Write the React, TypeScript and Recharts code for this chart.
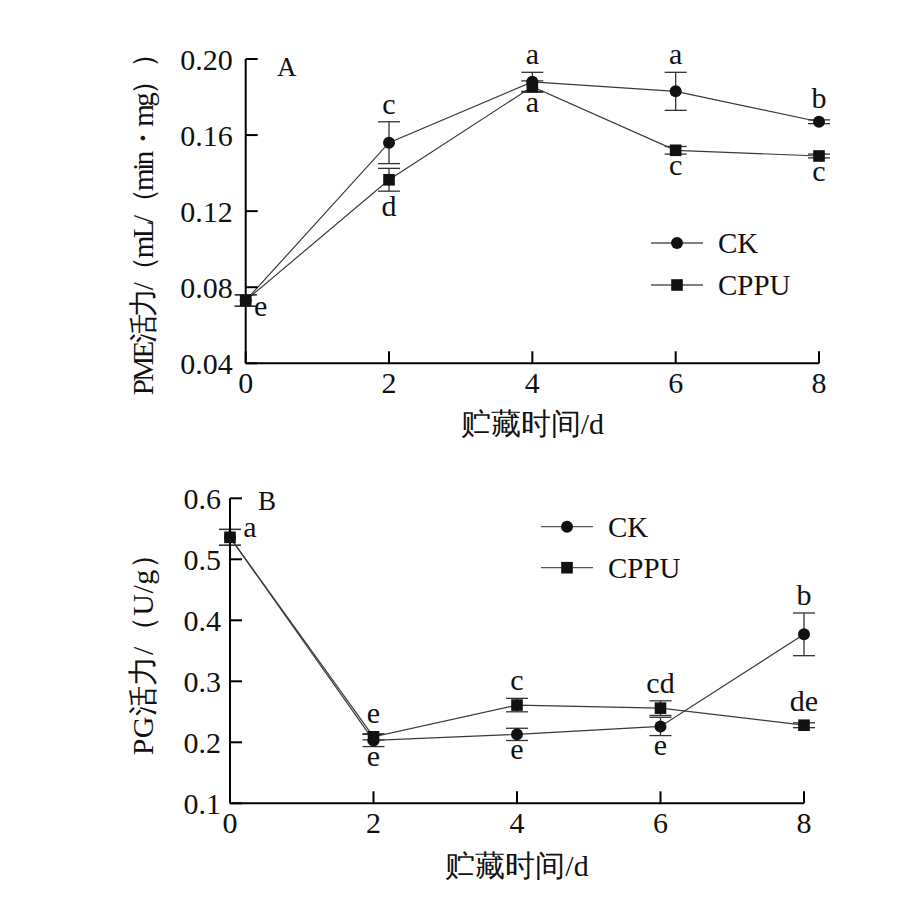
import React from 'react';
import { LineChart, Line, XAxis, YAxis, ErrorBar, LabelList, Legend, Label } from 'recharts';

const FONT = "'Times New Roman', 'Liberation Serif', 'DejaVu Serif', serif";

// ---------- data ----------
const days = [0, 2, 4, 6, 8];
const xTicks = [0, 2, 4, 6, 8];

// Panel A: PME activity
const pmeCK = [0.073, 0.156, 0.188, 0.183, 0.167];
const pmeCKErr = [0.003, 0.011, 0.005, 0.01, 0.001];
const pmeCPPU = [0.073, 0.1365, 0.1855, 0.152, 0.149];
const pmeCPPUErr = [0.003, 0.006, 0.003, 0.002, 0.001];
const pmeCKLetters = ['', 'c', 'a', 'a', 'b'];
const pmeCKSides = ['', 'above', 'above', 'above', 'above'];
const pmeCPPULetters = ['e', 'd', 'a', 'c', 'c'];
const pmeCPPUSides = ['belowRight', 'below', 'below', 'below', 'below'];
const pmeTicks = [0.04, 0.08, 0.12, 0.16, 0.2];

// Panel B: PG activity
const pgCK = [0.536, 0.203, 0.213, 0.226, 0.377];
const pgCKErr = [0.013, 0.01, 0.01, 0.015, 0.035];
const pgCPPU = [0.536, 0.209, 0.261, 0.256, 0.228];
const pgCPPUErr = [0.013, 0.005, 0.011, 0.012, 0.004];
const pgCKLetters = ['', 'e', 'e', 'e', 'b'];
const pgCKSides = ['', 'below', 'below', 'below', 'above'];
const pgCPPULetters = ['a', 'e', 'c', 'cd', 'de'];
const pgCPPUSides = ['right', 'above', 'above', 'above', 'above'];
const pgTicks = [0.1, 0.2, 0.3, 0.4, 0.5, 0.6];

const seriesNames = ['CK', 'CPPU'];

const pmeData = days.map((d, i) => ({
  day: d,
  ck: pmeCK[i],
  ckErr: pmeCKErr[i],
  cppu: pmeCPPU[i],
  cppuErr: pmeCPPUErr[i],
}));
const pgData = days.map((d, i) => ({
  day: d,
  ck: pgCK[i],
  ckErr: pgCKErr[i],
  cppu: pgCPPU[i],
  cppuErr: pgCPPUErr[i],
}));

// ---------- styles ----------
const LINE = '#3a3a3a';
const MARK = '#111';
const TICK_FS = 30;
const LETTER_FS = 30;

const CircleDot = (props: any) => {
  const { cx, cy, index } = props;
  if (cx == null || cy == null) return <g key={index} />;
  return <circle key={`c${index}`} cx={cx} cy={cy} r={6} fill={MARK} stroke="none" />;
};
const SquareDot = (props: any) => {
  const { cx, cy, index } = props;
  if (cx == null || cy == null) return <g key={index} />;
  return <rect key={`s${index}`} x={cx - 5.8} y={cy - 5.8} width={11.6} height={11.6} fill={MARK} stroke="none" />;
};

const makeLetterLabel = (letters: string[], sides: string[], errs: number[], pxPerUnit: number) => (props: any) => {
  const { x, y, index } = props;
  const txt = letters[index];
  if (!txt) return null;
  const side = sides[index];
  const e = Math.max(6, errs[index] * pxPerUnit);
  let tx = x;
  let ty = y;
  if (side === 'above') {
    ty = y - e - 8;
  } else if (side === 'below') {
    const asc = /[bdfhklt]/.test(txt) ? 6 : 0;
    ty = y + e + 19 + asc;
  } else if (side === 'right') {
    tx = x + 20;
    ty = y;
  } else if (side === 'belowRight') {
    tx = x + 15;
    ty = y + 15;
  }
  return (
    <text x={tx} y={ty} textAnchor="middle" style={{ fontFamily: FONT }} fontSize={LETTER_FS} fill="#111">
      {txt}
    </text>
  );
};

const makeYTick = (digits: number, gap: number) => (props: any) => {
  const { x, y, payload } = props;
  return (
    <g>
      <line x1={x} y1={y} x2={x + 12} y2={y} stroke="#000" strokeWidth={2} />
      <text x={x - gap} y={y} dy={10.5} textAnchor="end" style={{ fontFamily: FONT }} fontSize={TICK_FS} fill="#111">
        {Number(payload.value).toFixed(digits)}
      </text>
    </g>
  );
};

const XTick = (props: any) => {
  const { x, y, payload } = props;
  return (
    <g>
      <line x1={x} y1={y} x2={x} y2={y - 12} stroke="#000" strokeWidth={2} />
      <text x={x} y={y + 30} textAnchor="middle" style={{ fontFamily: FONT }} fontSize={TICK_FS} fill="#111">
        {payload.value}
      </text>
    </g>
  );
};

const makeLegend = (rowY: number[], textDy: number) => (props: any) => {
  const payload = props.payload || [];
  return (
    <svg width={220} height={100} style={{ overflow: 'visible', display: 'block' }}>
      {payload.map((entry: any, i: number) => {
        const yy = rowY[i];
        const isCircle = entry.value === seriesNames[0];
        return (
          <g key={entry.value}>
            <line x1={11} y1={yy} x2={63} y2={yy} stroke="#555" strokeWidth={1.3} />
            {isCircle ? (
              <circle cx={37} cy={yy} r={6} fill={MARK} />
            ) : (
              <rect x={31.2} y={yy - 5.8} width={11.6} height={11.6} fill={MARK} />
            )}
            <text x={78} y={yy + textDy} style={{ fontFamily: FONT }} fontSize={29} fill="#111">
              {entry.value}
            </text>
          </g>
        );
      })}
    </svg>
  );
};

const XLabel = (offsetY: number) => (props: any) => {
  const vb = props.viewBox || {};
  return (
    <text x={vb.x + vb.width / 2} y={vb.y + offsetY} textAnchor="middle" style={{ fontFamily: FONT }} fontSize={30} fill="#111">
      贮藏时间/d
    </text>
  );
};

// rotated axis title: starts at the plot bottom + shift, runs upward with a fixed length
const YLabel = (text: string, baselineX: number, startShift: number, len: number, fs: number) => (props: any) => {
  const vb = props.viewBox || {};
  const sy = vb.y + vb.height + startShift;
  return (
    <text
      x={baselineX}
      y={sy}
      transform={`rotate(-90 ${baselineX} ${sy})`}
      textAnchor="start"
      textLength={len}
      lengthAdjust="spacing"
      style={{ fontFamily: FONT }}
      fontSize={fs}
      fill="#111"
    >
      {text}
    </text>
  );
};

const PanelLetter = ({ letter, x, y }: { letter: string; x: number; y: number }) => (
  <div
    style={{
      position: 'absolute',
      left: x,
      top: y,
      fontFamily: FONT,
      fontSize: 27,
      lineHeight: 1,
      color: '#111',
    }}
  >
    {letter}
  </div>
);

export default function App() {
  const pmePx = 304.3 / 0.16;
  const pgPx = 305 / 0.5;
  return (
    <div style={{ position: 'absolute', left: 0, top: 0, width: 905, height: 915, background: '#fff', fontFamily: FONT }}>
      {/* Panel A */}
      <div style={{ position: 'absolute', left: 0, top: 0 }}>
        <LineChart
          width={905}
          height={450}
          data={pmeData}
          margin={{ top: 59, right: 86, bottom: 26.7, left: 145.7 }}
          style={{ fontFamily: FONT }}
        >
          <XAxis
            dataKey="day"
            type="number"
            domain={[0, 8]}
            ticks={xTicks}
            height={60}
            tickSize={0}
            tickMargin={0}
            tickLine={false}
            axisLine={{ stroke: '#000', strokeWidth: 2 }}
            tick={XTick}
            interval={0}
          >
            <Label content={XLabel(71)} />
          </XAxis>
          <YAxis
            type="number"
            domain={[0.04, 0.2]}
            ticks={pmeTicks}
            width={100}
            tickSize={0}
            tickMargin={0}
            tickLine={false}
            axisLine={{ stroke: '#000', strokeWidth: 2 }}
            tick={makeYTick(2, 13)}
            interval={0}
          >
            <Label content={YLabel('PME活力/（mL/（min・mg））', 153, 32, 356, 29)} />
          </YAxis>
          <Legend
            layout="vertical"
            align="center"
            verticalAlign="middle"
            content={makeLegend([23, 65], 10)}
            wrapperStyle={{ position: 'absolute', left: 640, top: 220, width: 220, height: 100 }}
          />
          <Line
            name={seriesNames[0]}
            dataKey="ck"
            stroke={LINE}
            strokeWidth={1.2}
            dot={CircleDot}
            activeDot={false}
            isAnimationActive={false}
          >
            <ErrorBar dataKey="ckErr" width={11} stroke="#333" strokeWidth={1.3} direction="y" />
            <LabelList dataKey="ck" content={makeLetterLabel(pmeCKLetters, pmeCKSides, pmeCKErr, pmePx)} />
          </Line>
          <Line
            name={seriesNames[1]}
            dataKey="cppu"
            stroke={LINE}
            strokeWidth={1.2}
            dot={SquareDot}
            activeDot={false}
            isAnimationActive={false}
          >
            <ErrorBar dataKey="cppuErr" width={11} stroke="#333" strokeWidth={1.3} direction="y" />
            <LabelList dataKey="cppu" content={makeLetterLabel(pmeCPPULetters, pmeCPPUSides, pmeCPPUErr, pmePx)} />
          </Line>
        </LineChart>
        <PanelLetter letter="A" x={277} y={54} />
      </div>

      {/* Panel B */}
      <div style={{ position: 'absolute', left: 0, top: 450 }}>
        <LineChart
          width={905}
          height={465}
          data={pgData}
          margin={{ top: 48.3, right: 101, bottom: 51.7, left: 130 }}
          style={{ fontFamily: FONT }}
        >
          <XAxis
            dataKey="day"
            type="number"
            domain={[0, 8]}
            ticks={xTicks}
            height={60}
            tickSize={0}
            tickMargin={0}
            tickLine={false}
            axisLine={{ stroke: '#000', strokeWidth: 2 }}
            tick={XTick}
            interval={0}
          >
            <Label content={XLabel(73)} />
          </XAxis>
          <YAxis
            type="number"
            domain={[0.1, 0.6]}
            ticks={pgTicks}
            width={100}
            tickSize={0}
            tickMargin={0}
            tickLine={false}
            axisLine={{ stroke: '#000', strokeWidth: 2 }}
            tick={makeYTick(1, 9)}
            interval={0}
          >
            <Label content={YLabel('PG活力/（U/g）', 153, -48, 216, 30)} />
          </YAxis>
          <Legend
            layout="vertical"
            align="center"
            verticalAlign="middle"
            content={makeLegend([26.7, 67.7], 10)}
            wrapperStyle={{ position: 'absolute', left: 530, top: 50, width: 220, height: 100 }}
          />
          <Line
            name={seriesNames[0]}
            dataKey="ck"
            stroke={LINE}
            strokeWidth={1.2}
            dot={CircleDot}
            activeDot={false}
            isAnimationActive={false}
          >
            <ErrorBar dataKey="ckErr" width={11} stroke="#333" strokeWidth={1.3} direction="y" />
            <LabelList dataKey="ck" content={makeLetterLabel(pgCKLetters, pgCKSides, pgCKErr, pgPx)} />
          </Line>
          <Line
            name={seriesNames[1]}
            dataKey="cppu"
            stroke={LINE}
            strokeWidth={1.2}
            dot={SquareDot}
            activeDot={false}
            isAnimationActive={false}
          >
            <ErrorBar dataKey="cppuErr" width={11} stroke="#333" strokeWidth={1.3} direction="y" />
            <LabelList dataKey="cppu" content={makeLetterLabel(pgCPPULetters, pgCPPUSides, pgCPPUErr, pgPx)} />
          </Line>
        </LineChart>
        <PanelLetter letter="B" x={258} y={38} />
      </div>
    </div>
  );
}
